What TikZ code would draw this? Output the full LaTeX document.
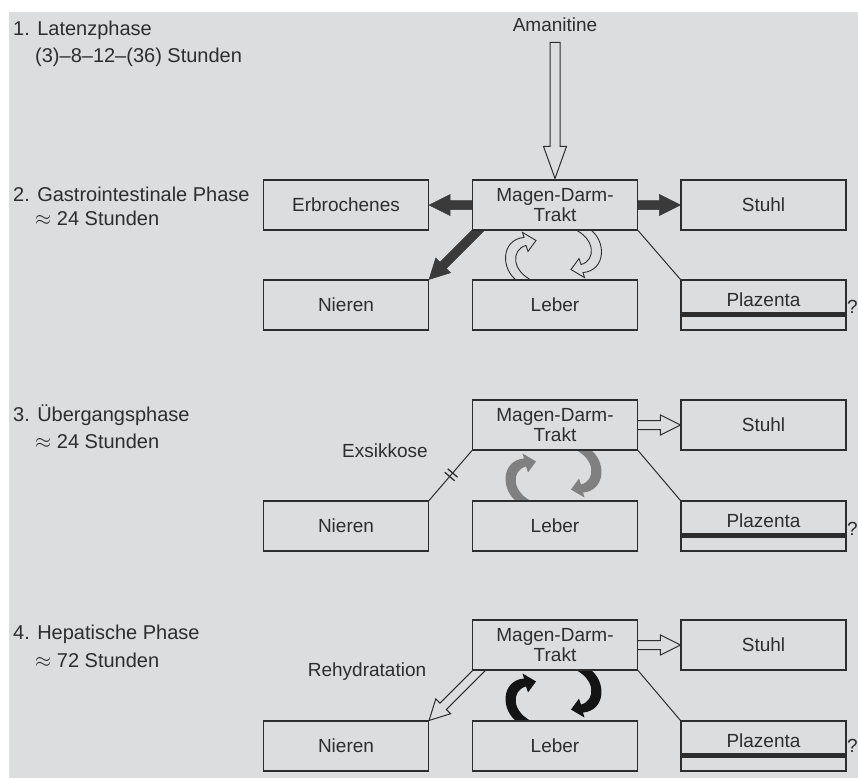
\documentclass[tikz,border=0pt]{standalone}
\usepackage{fontspec}
\setmainfont{Liberation Sans}
\usetikzlibrary{calc}
\definecolor{bg}{RGB}{220,221,223}
\definecolor{ink}{RGB}{45,45,45}
\definecolor{dark}{RGB}{58,58,58}
\definecolor{midgrey}{RGB}{128,128,128}
\pgfdeclarelayer{back}
\pgfdeclarelayer{mid}
\pgfsetlayers{back,mid,main}
\tikzset{
  box/.style={draw=ink, line width=1.1pt, fill=bg, minimum width=165pt, minimum height=50pt, inner sep=0pt, align=center},
  lbl/.style={inner sep=0pt, anchor=base west},
  side/.style={inner sep=0pt, anchor=base west, font=\fontsize{20}{22}\selectfont},
  plain/.style={inner sep=0pt},
  conn/.style={draw=ink, line width=1pt},
  hollow/.style={draw=ink, line width=1pt, fill=bg, line join=miter},
  fatdark/.style={fill=dark, draw=dark, line width=0.5pt, line join=miter},
  curl/.pic={\path[pic actions] (-37,2) .. controls (-55,-10) and (-54,-40) .. (-31,-42)
      -- (-32.5,-47) -- (-19,-39) -- (-27,-28) -- (-29,-34)
      .. controls (-44,-30) and (-44,-8) .. (-21,2) -- cycle;}
}
\begin{document}
\begin{tikzpicture}[x=1pt, y=-1pt, font=\fontsize{19}{20}\selectfont, text=ink]
\useasboundingbox (0,0) rectangle (858,778);
\clip (0,0) rectangle (858,778);
\begin{pgfonlayer}{back}
\fill[bg] (9,12) rectangle (858,778);
\end{pgfonlayer}

% ---------- left labels ----------
\node[side] (t1a) at (13,36) {1. Latenzphase};
\node[side] (t1b) at (35,63) {(3)–8–12–(36) Stunden};
\node[side] (t2a) at (13,201) {2. Gastrointestinale Phase};
\node[side] (t2b) at (35,225) {$\approx$ 24 Stunden};
\node[side] (t3a) at (13,421) {3. Übergangsphase};
\node[side] (t3b) at (35,448) {$\approx$ 24 Stunden};
\node[side] (t4a) at (13,639) {4. Hepatische Phase};
\node[side] (t4b) at (35,667) {$\approx$ 72 Stunden};

% ---------- panel 2 ----------
\node[lbl, anchor=base] (am) at (555,32) {Amanitine};
\node[box] (e2) at (346,205) {Erbrochenes};
\node[box] (m2) at (555,205) {Magen-Darm-\\Trakt};
\node[box] (s2) at (763.5,205) {Stuhl};
\node[box] (n2) at (346,305) {Nieren};
\node[box] (l2) at (555,305) {Leber};
\node[box] (p2) at (763.5,305) {};
\node[plain] (pt2) at (763.5,299.5) {Plazenta};
\fill[ink] ($(p2.south west)+(0,-19)$) rectangle ($(p2.south east)+(0,-14)$);
\node[lbl] (q2) at (847,313) {?};

% ---------- panel 3 ----------
\node[box] (m3) at (555,425) {Magen-Darm-\\Trakt};
\node[box] (s3) at (763.5,425) {Stuhl};
\node[box] (n3) at (346,526) {Nieren};
\node[box] (l3) at (555,526) {Leber};
\node[box] (p3) at (763.5,526) {};
\node[plain] (pt3) at (763.5,520.5) {Plazenta};
\fill[ink] ($(p3.south west)+(0,-19)$) rectangle ($(p3.south east)+(0,-14)$);
\node[lbl] (q3) at (847,535) {?};
\node[lbl, anchor=base] (ex) at (385,457) {Exsikkose};

% ---------- panel 4 ----------
\node[box] (m4) at (555,645) {Magen-Darm-\\Trakt};
\node[box] (s4) at (763.5,645) {Stuhl};
\node[box] (n4) at (346,746) {Nieren};
\node[box] (l4) at (555,746) {Leber};
\node[box] (p4) at (763.5,746) {};
\node[plain] (pt4) at (763.5,740.5) {Plazenta};
\fill[ink] ($(p4.south west)+(0,-19)$) rectangle ($(p4.south east)+(0,-14)$);
\node[lbl] (q4) at (847,752) {?};
\node[lbl, anchor=base] (rh) at (367,676) {Rehydratation};

% ---------- connectors (behind boxes) ----------
\begin{pgfonlayer}{mid}
% Amanitine
\path[hollow] ($(m2.north)+(-5,-137)$) -- ($(m2.north)+(-5,-33)$) -- ($(m2.north)+(-11.5,-33)$)
  -- ($(m2.north)+(0,-1)$) -- ($(m2.north)+(11.5,-33)$) -- ($(m2.north)+(5,-33)$)
  -- ($(m2.north)+(5,-137)$) -- cycle;
% panel 2 dark arrows
\path[fatdark] ($(m2.west)+(2,-4.5)$) -- ($(e2.east)+(21,-4.5)$) -- ($(e2.east)+(21,-10.5)$)
  -- (e2.east) -- ($(e2.east)+(21,10.5)$) -- ($(e2.east)+(21,4.5)$) -- ($(m2.west)+(2,4.5)$) -- cycle;
\path[fatdark] ($(m2.east)+(-2,-4.5)$) -- ($(s2.west)+(-21,-4.5)$) -- ($(s2.west)+(-21,-10.5)$)
  -- (s2.west) -- ($(s2.west)+(-21,10.5)$) -- ($(s2.west)+(-21,4.5)$) -- ($(m2.east)+(-2,4.5)$) -- cycle;
\path[fatdark] ($(n2.north east)+(57.18,-50.82)$) -- ($(n2.north east)+(17.32,-10.96)$)
  -- ($(n2.north east)+(21.56,-6.72)$) -- (n2.north east) -- ($(n2.north east)+(6.72,-21.56)$)
  -- ($(n2.north east)+(10.96,-17.32)$) -- ($(n2.north east)+(50.82,-57.18)$) -- cycle;
% panel 2 curls
\pic[draw=ink, fill=bg, line width=0.9pt] at (l2.north) {curl};
\pic[draw=ink, fill=bg, line width=0.9pt, rotate=180] at ($(m2.south)+(-3,0)$) {curl};

% panel 3
\path[hollow] ($(m3.east)+(-2,-4.5)$) -- ($(s3.west)+(-20,-4.5)$) -- ($(s3.west)+(-20,-10)$)
  -- (s3.west) -- ($(s3.west)+(-20,10)$) -- ($(s3.west)+(-20,4.5)$) -- ($(m3.east)+(-2,4.5)$) -- cycle;
\pic[fill=midgrey] at (l3.north) {curl};
\pic[fill=midgrey, rotate=180] at ($(m3.south)+(-3,0)$) {curl};

% panel 4
\path[hollow] ($(m4.east)+(-2,-4.5)$) -- ($(s4.west)+(-20,-4.5)$) -- ($(s4.west)+(-20,-10)$)
  -- (s4.west) -- ($(s4.west)+(-20,10)$) -- ($(s4.west)+(-20,4.5)$) -- ($(m4.east)+(-2,4.5)$) -- cycle;
\path[hollow] ($(n4.north east)+(57.18,-50.82)$) -- ($(n4.north east)+(17.32,-10.96)$)
  -- ($(n4.north east)+(21.56,-6.72)$) -- (n4.north east) -- ($(n4.north east)+(6.72,-21.56)$)
  -- ($(n4.north east)+(10.96,-17.32)$) -- ($(n4.north east)+(50.82,-57.18)$) -- cycle;
\pic[fill=black!92] at (l4.north) {curl};
\pic[fill=black!92, rotate=180] at ($(m4.south)+(-3,0)$) {curl};
\end{pgfonlayer}

% thin connectors
\draw[conn] (m2.south east) -- (p2.north west);
\draw[conn] (m3.south east) -- (p3.north west);
\draw[conn] (m4.south east) -- (p4.north west);
\draw[conn] (m3.south west) -- (n3.north east);
\draw[conn, line width=1.3pt] ($(m3.south west)!0.45!(n3.north east)!6.5pt!90:(n3.north east)$) -- ($(m3.south west)!0.45!(n3.north east)!6.5pt!-90:(n3.north east)$);
\draw[conn, line width=1.3pt] ($(m3.south west)!0.52!(n3.north east)!6.5pt!90:(n3.north east)$) -- ($(m3.south west)!0.52!(n3.north east)!6.5pt!-90:(n3.north east)$);
\end{tikzpicture}
\end{document}
